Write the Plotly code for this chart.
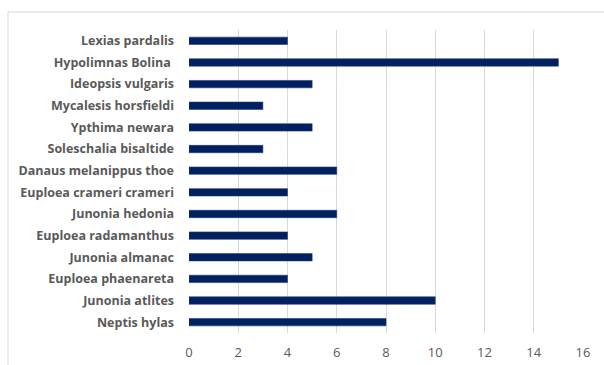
import plotly.graph_objects as go

species = [
    "Lexias pardalis",
    "Hypolimnas Bolina\u00a0",
    "Ideopsis vulgaris",
    "Mycalesis horsfieldi",
    "Ypthima newara",
    "Soleschalia bisaltide",
    "Danaus melanippus thoe",
    "Euploea crameri crameri",
    "Junonia hedonia",
    "Euploea radamanthus",
    "Junonia almanac",
    "Euploea phaenareta",
    "Junonia atlites",
    "Neptis hylas",
]
counts = [4, 15, 5, 3, 5, 3, 6, 4, 6, 4, 5, 4, 10, 8]
x_ticks = [0, 2, 4, 6, 8, 10, 12, 14, 16]

W, H = 604, 365
L, R, T, B = 189, 21, 30, 32
pw, ph = W - L - R, H - T - B

fig = go.Figure(go.Bar(
    y=species, x=counts, orientation="h",
    marker=dict(color="#002060", line=dict(color="#1f3a78", width=0.6)),
    width=0.34,
))

fig.update_layout(
    width=W, height=H,
    margin=dict(l=L, r=R, t=T, b=B, autoexpand=False),
    paper_bgcolor="white", plot_bgcolor="white",
    showlegend=False,
    font=dict(family="Open Sans, sans-serif", color="#595959"),
    xaxis=dict(
        range=[0, 16], tickvals=x_ticks, showgrid=True, gridcolor="#d9d9d9",
        gridwidth=1, zeroline=False, showline=False, automargin=False,
        tickfont=dict(size=13, color="#595959"), ticks="", ticklabelstandoff=10,
    ),
    yaxis=dict(
        categoryorder="array", categoryarray=species[::-1],
        showgrid=False, zeroline=False, showline=False, ticks="", automargin=False,
        tickfont=dict(size=12.5, color="#595959", weight="bold"),
        ticklabelstandoff=14,
    ),
    shapes=[dict(
        type="rect", xref="paper", yref="paper",
        x0=(8 - L) / pw, x1=(W + 40 - L) / pw,
        y0=-(H + 40 - T - ph) / ph, y1=(H - 12 - B) / ph,
        line=dict(color="#d9d9d9", width=1), fillcolor="rgba(0,0,0,0)", layer="below",
    )],
)

fig.write_html("out.html")
